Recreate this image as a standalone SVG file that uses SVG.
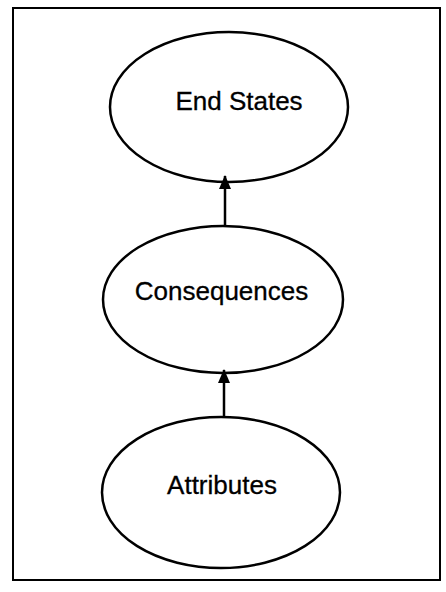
<svg xmlns="http://www.w3.org/2000/svg" width="446" height="592" viewBox="0 0 446 592">
  <style>
    .node ellipse { fill: #ffffff; stroke: #000000; stroke-width: 2.5; }
    .node text { font-family: "Liberation Sans", Arial, sans-serif; font-size: 26px; fill: #000000; text-anchor: middle; stroke: #000000; stroke-width: 0.3; }
    .frame { fill: #ffffff; stroke: #000000; stroke-width: 2; }
    #connectors line { stroke: #000000; stroke-width: 2.5; }
  </style>
  <defs>
    <!-- solid triangular head; tip sits on the line end -->
    <marker id="arrowhead" viewBox="0 0 14 12" refX="13" refY="6" markerWidth="14" markerHeight="12" markerUnits="userSpaceOnUse" orient="auto">
      <path d="M0,0 L14,6 L0,12 Z" fill="#000000"/>
    </marker>
  </defs>

  <rect width="446" height="592" fill="#ffffff"/>
  <rect class="frame" x="13" y="8" width="427" height="572"/>

  <g id="node-end-states" class="node">
    <ellipse cx="229" cy="107" rx="119" ry="75"/>
    <text x="239" y="110">End States</text>
  </g>

  <g id="node-consequences" class="node">
    <ellipse cx="223" cy="299.5" rx="120" ry="73.5"/>
    <text x="221.5" y="300">Consequences</text>
  </g>

  <g id="node-attributes" class="node">
    <ellipse cx="221" cy="492.5" rx="119" ry="75.5"/>
    <text x="222" y="494">Attributes</text>
  </g>

  <g id="connectors">
    <line x1="225" y1="226" x2="225" y2="176" marker-end="url(#arrowhead)"/>
    <line x1="224" y1="417" x2="224" y2="370" marker-end="url(#arrowhead)"/>
  </g>
</svg>
